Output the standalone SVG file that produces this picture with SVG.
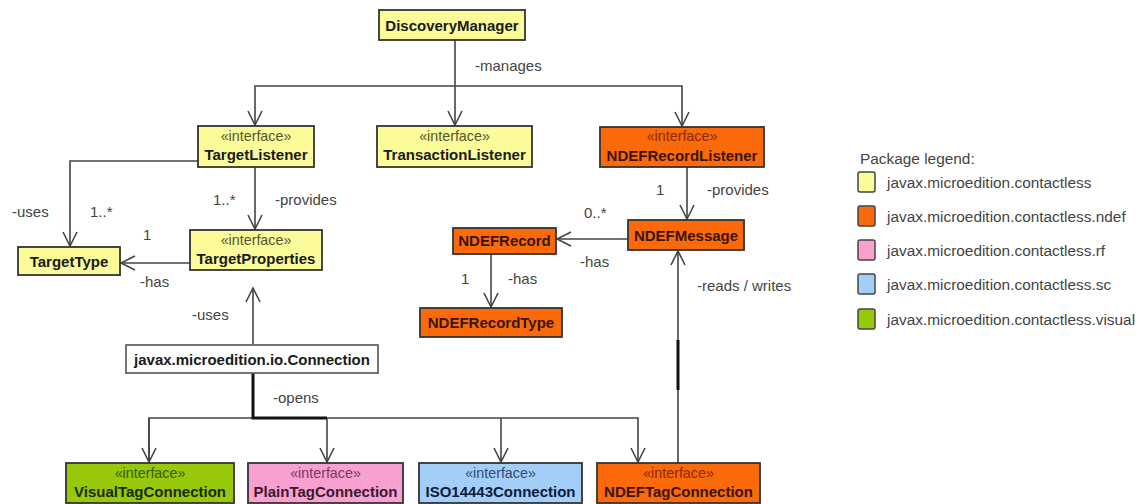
<svg xmlns="http://www.w3.org/2000/svg" width="1139" height="504" viewBox="0 0 1139 504">
<defs>
<style>
.box{stroke:#333;stroke-width:1.8}
.y{fill:#FBFB99}
.o{fill:#FA6A0A}
.p{fill:#F8A0D0}
.b{fill:#A2CEF8}
.g{fill:#97C80A}
.w{fill:#ffffff;stroke:#666}
text{font-family:"Liberation Sans",Arial,sans-serif}
.n{font-size:15px;font-weight:bold;text-anchor:middle;fill:#1a1a1a}
.s{font-size:14.3px;text-anchor:middle;fill:#555530}
.on{fill:#3a1400}
.os{fill:#8a2800}
.pn{fill:#3a1a2c}
.ps{fill:#7a3a60}
.bn{fill:#0c1c3a}
.bs{fill:#3a4a6a}
.gn{fill:#1a2a00}
.gs{fill:#3a5a00}
.l{font-size:15px;fill:#444}
.c{fill:none;stroke:#444;stroke-width:1.6}
.t{fill:none;stroke:#111;stroke-width:3}
.lg{font-size:15.4px;fill:#444}
.sw{stroke:#444;stroke-width:1.5}
</style>
<marker id="a" markerUnits="userSpaceOnUse" markerWidth="20" markerHeight="20" viewBox="-16 -10 20 20" refX="0" refY="0" orient="auto">
<path d="M-14,-7 L0,0 L-14,7" fill="none" stroke="#444" stroke-width="1.6"/>
</marker>
</defs>

<g id="connectors">
<path class="c" d="M455,40 V125" marker-end="url(#a)"/>
<path class="c" d="M455,86 H255 V125" marker-end="url(#a)"/>
<path class="c" d="M455,86 H682 V126" marker-end="url(#a)"/>
<path class="c" d="M198,161 H70 V246" marker-end="url(#a)"/>
<path class="c" d="M255,167 V229" marker-end="url(#a)"/>
<path class="c" d="M190,263 H121" marker-end="url(#a)"/>
<path class="c" d="M253,345 V288" marker-end="url(#a)"/>
<path class="c" d="M687,167 V219" marker-end="url(#a)"/>
<path class="c" d="M628,239 H557" marker-end="url(#a)"/>
<path class="c" d="M491,254 V307" marker-end="url(#a)"/>
<path class="c" d="M678,463 V251" marker-end="url(#a)"/>
<path class="t" d="M678,340 V390"/>
<path class="c" d="M149,462 V418 H638 V462" marker-end="url(#a)"/>
<path class="c" d="M149,418 V462" marker-end="url(#a)"/>
<path class="c" d="M327,418 V462" marker-end="url(#a)"/>
<path class="c" d="M501,418 V462" marker-end="url(#a)"/>
<path class="t" d="M253,373 V418 H327"/>
<text class="l" x="475" y="71">-manages</text>
<text class="l" x="12" y="217">-uses</text>
<text class="l" x="90" y="217">1..*</text>
<text class="l" x="143" y="240">1</text>
<text class="l" x="213" y="205">1..*</text>
<text class="l" x="275" y="205">-provides</text>
<text class="l" x="140" y="287">-has</text>
<text class="l" x="192" y="320">-uses</text>
<text class="l" x="273" y="403">-opens</text>
<text class="l" x="656" y="195">1</text>
<text class="l" x="707" y="195">-provides</text>
<text class="l" x="584" y="218">0..*</text>
<text class="l" x="580" y="267">-has</text>
<text class="l" x="461" y="284">1</text>
<text class="l" x="508" y="284">-has</text>
<text class="l" x="697" y="291">-reads / writes</text>
</g>

<g id="DiscoveryManager">
<rect class="box y" x="379" y="10" width="146" height="30"/>
<text class="n" x="452" y="31">DiscoveryManager</text>
</g>
<g id="TargetListener">
<rect class="box y" x="198" y="126" width="116" height="41"/>
<text class="s" x="256" y="141">«interface»</text>
<text class="n" x="256" y="160">TargetListener</text>
</g>
<g id="TransactionListener">
<rect class="box y" x="377" y="126" width="155" height="41"/>
<text class="s" x="454.5" y="141">«interface»</text>
<text class="n" x="454.5" y="160">TransactionListener</text>
</g>
<g id="NDEFRecordListener">
<rect class="box o" x="600" y="127" width="164" height="40"/>
<text class="s os" x="682" y="141">«interface»</text>
<text class="n on" x="682" y="161">NDEFRecordListener</text>
</g>
<g id="TargetType">
<rect class="box y" x="18" y="247" width="102" height="28"/>
<text class="n" x="69" y="267">TargetType</text>
</g>
<g id="TargetProperties">
<rect class="box y" x="190" y="230" width="132" height="40"/>
<text class="s" x="256" y="245">«interface»</text>
<text class="n" x="256" y="264">TargetProperties</text>
</g>
<g id="NDEFMessage">
<rect class="box o" x="628" y="220" width="116" height="30"/>
<text class="n on" x="686" y="241">NDEFMessage</text>
</g>
<g id="NDEFRecord">
<rect class="box o" x="453" y="228" width="103" height="26"/>
<text class="n on" x="504.5" y="246">NDEFRecord</text>
</g>
<g id="NDEFRecordType">
<rect class="box o" x="420" y="308" width="142" height="29"/>
<text class="n on" x="491" y="328">NDEFRecordType</text>
</g>
<g id="Connection">
<rect class="box w" x="126" y="345" width="252" height="28"/>
<text class="n" x="252" y="365">javax.microedition.io.Connection</text>
</g>
<g id="VisualTagConnection">
<rect class="box g" x="66" y="463" width="168" height="40"/>
<text class="s gs" x="150" y="478">«interface»</text>
<text class="n gn" x="150" y="497">VisualTagConnection</text>
</g>
<g id="PlainTagConnection">
<rect class="box p" x="248" y="463" width="155" height="40"/>
<text class="s ps" x="325.5" y="478">«interface»</text>
<text class="n pn" x="325.5" y="497">PlainTagConnection</text>
</g>
<g id="ISO14443Connection">
<rect class="box b" x="419" y="463" width="163" height="40"/>
<text class="s bs" x="500.5" y="478">«interface»</text>
<text class="n bn" x="500.5" y="497">ISO14443Connection</text>
</g>
<g id="NDEFTagConnection">
<rect class="box o" x="597" y="463" width="163" height="40"/>
<text class="s os" x="678.5" y="478">«interface»</text>
<text class="n on" x="678.5" y="497">NDEFTagConnection</text>
</g>

<g id="legend">
<text class="lg" x="860" y="164">Package legend:</text>
<rect class="sw" x="858" y="172" width="17" height="20" rx="2" fill="#FBFB99"/>
<text class="lg" x="887" y="188">javax.microedition.contactless</text>
<rect class="sw" x="858" y="206" width="17" height="20" rx="2" fill="#FA6A0A"/>
<text class="lg" x="887" y="222">javax.microedition.contactless.ndef</text>
<rect class="sw" x="858" y="240" width="17" height="20" rx="2" fill="#F8A0D0"/>
<text class="lg" x="887" y="256">javax.microedition.contactless.rf</text>
<rect class="sw" x="858" y="274" width="17" height="20" rx="2" fill="#A2CEF8"/>
<text class="lg" x="887" y="290">javax.microedition.contactless.sc</text>
<rect class="sw" x="858" y="309" width="17" height="20" rx="2" fill="#97C80A"/>
<text class="lg" x="887" y="325">javax.microedition.contactless.visual</text>
</g>
</svg>
